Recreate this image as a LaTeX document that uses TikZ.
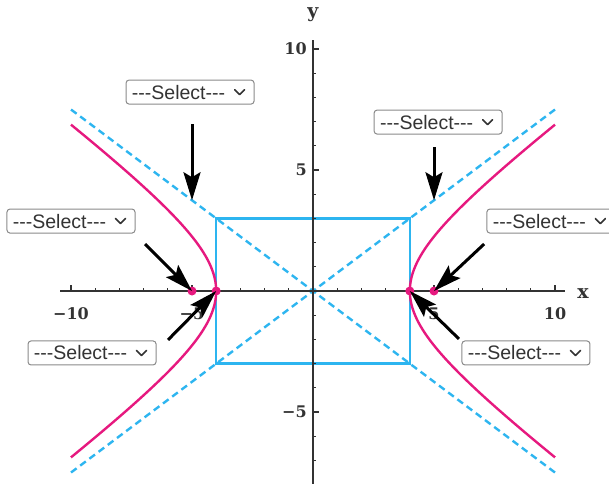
\documentclass[tikz,border=0pt]{standalone}
\usepackage{fontspec}
\setmainfont{DejaVu Serif}
\newfontfamily\uifont{Liberation Sans}
\usetikzlibrary{arrows.meta}
\definecolor{hypink}{HTML}{E6197F}
\definecolor{hyblue}{HTML}{2DB5F0}
\definecolor{hyaxis}{HTML}{333333}
\definecolor{hyframe}{HTML}{8A8A8A}
\newcommand{\dashes}{-\kern0pt-\kern0pt-}
\tikzset{
  axisline/.style={draw=hyaxis,line width=1.6pt},
  tickmark/.style={draw=hyaxis,line width=1.2pt},
  ticklabel/.style={font=\fontsize{16}{18}\selectfont\bfseries,text=hyaxis,inner sep=0pt},
  axislabel/.style={font=\fontsize{19}{22}\selectfont\bfseries,text=hyaxis,inner sep=0pt},
  curve/.style={draw=hypink,line width=2.4pt},
  asym/.style={draw=hyblue,line width=2.4pt,dash pattern=on 7pt off 4.5pt},
  guidebox/.style={draw=hyblue,line width=2.4pt},
  dot/.style={circle,fill=hypink,inner sep=0pt,minimum size=9pt},
  pointer/.style={-{Stealth[length=28pt,width=17pt,inset=5pt]},draw=black,line width=3pt},
  dropdown/.style={draw=hyframe,rounded corners=3pt,line width=1pt,fill=white,minimum width=128pt,minimum height=24pt,inner sep=0pt,font=\uifont\fontsize{19.5}{20}\selectfont,text=hyaxis},
  chev/.style={draw=hyaxis,line width=1.6pt,line cap=round,line join=round},
}

\begin{document}
\begin{tikzpicture}[x=24.2pt,y=24.2pt]
  \useasboundingbox (-12.934,-7.934) rectangle (12.231,12.025);
  % asymptotes and central box
  \draw[asym] (-10,-7.5) -- (10,7.5);
  \draw[asym] (-10,7.5) -- (10,-7.5);
  \draw[guidebox] (-4,-3) rectangle (4,3);
  % axes
  \draw[axisline] (-10.45,0) -- (10.4,0);
  \draw[axisline] (0,-8.2) -- (0,10.37);
  \foreach \i in {-10,...,10} \draw[tickmark] (\i,0) -- ++(0,3pt);
  \foreach \i in {-10,-5,5,10} \draw[tickmark] (\i,0) -- ++(0,6pt);
  \foreach \i in {-8,...,10} \draw[tickmark] (0,\i) -- ++(3pt,0);
  \foreach \i in {-5,5,10} \draw[tickmark] (0,\i) -- ++(6pt,0);
  \foreach \v/\t/\n in {-10/−10/a,-5/−5/b,5/5/c,10/10/d}
    \node[ticklabel] (xl\n) at (\v,-0.95) {\t};
  \foreach \v/\t/\n in {-5/−5/a,5/5/b,10/10/c}
    \node[ticklabel,anchor=east] (yl\n) at (-0.25,\v) {\t};
  \node[axislabel] (xname) at (11.16,-0.1) {x};
  \node[axislabel] (yname) at (0,11.4) {y};
  % hyperbola
  \draw[curve] plot[domain=-1.567:1.567,samples=60,smooth] ({4*cosh(\x)},{3*sinh(\x)});
  \draw[curve] plot[domain=-1.567:1.567,samples=60,smooth] ({-4*cosh(\x)},{3*sinh(\x)});
  \node[dot] (vL) at (-4,0) {};
  \node[dot] (vR) at (4,0) {};
  \node[dot] (fL) at (-5,0) {};
  \node[dot] (fR) at (5,0) {};
  \coordinate (aL) at (-5,3.75);
  \coordinate (aR) at (5,3.75);
  % pointers
  \coordinate (p1) at (-5,6.9);
  \coordinate (p2) at (5,5.95);
  \coordinate (p3) at (-6.94,1.94);
  \coordinate (p4) at (-5.99,-2.02);
  \coordinate (p5) at (7.07,1.94);
  \coordinate (p6) at (6.03,-1.98);
  \draw[pointer] (p1) -- (aL);
  \draw[pointer] (p2) -- (aR);
  \draw[pointer] (p3) -- (fL.center);
  \draw[pointer] (p4) -- (vL.center);
  \draw[pointer] (p5) -- (fR.center);
  \draw[pointer] (p6) -- (vR.center);
  % dropdowns
  \foreach \n/\pos in {s1/{(-5.08,8.22)},s2/{(5.17,6.98)},s3/{(-10,2.89)},s4/{(-9.13,-2.56)},s5/{(9.83,2.89)},s6/{(8.8,-2.56)}}{
    \node[dropdown] (\n) at \pos {\dashes Select\dashes\kern23pt};
    \draw[chev] ([xshift=-20pt,yshift=2.5pt]\n.east) -- ++(5pt,-5pt) -- ++(5pt,5pt);
  }
\end{tikzpicture}
\end{document}
